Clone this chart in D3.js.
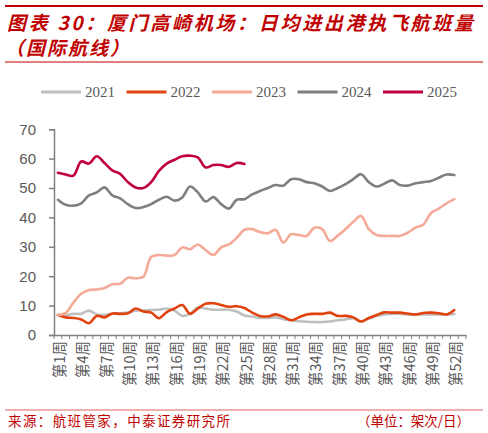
<!DOCTYPE html>
<html>
<head>
<meta charset="utf-8">
<script src="https://cdn.jsdelivr.net/npm/d3@7"></script>
<style>
  html, body { margin: 0; padding: 0; background: #fff; }
  svg { display: block; }
</style>
</head>
<body>
<svg id="chart"></svg>
<script>
// data, weeks 1..52
const weeks = d3.range(1, 54); // 53 category slots on the axis
const labelWeeks = [1, 4, 7, 10, 13, 16, 19, 22, 25, 28, 31, 34, 37, 40, 43, 46, 49, 52];
const years = ["2021", "2022", "2023", "2024", "2025"];
const yTicks = [0, 10, 20, 30, 40, 50, 60, 70];

const v2021 = [6.8, 6.8, 7.2, 7.2, 8.3, 7.0, 6.8, 7.2, 7.4, 7.6, 8.3, 8.3, 8.5, 8.6, 9.0, 8.3, 6.5, 7.2, 9.4, 9.0,
  8.6, 8.6, 8.6, 8.0, 6.6, 6.3, 5.8, 5.8, 6.0, 5.4, 5.0, 4.7, 4.5, 4.4, 4.4, 4.6, 5.0, 5.3, 5.7, 4.5,
  5.6, 6.5, 7.0, 7.2, 7.2, 7.0, 6.9, 7.0, 7.0, 7.0, 7.0, 7.2];
const v2022 = [6.8, 6.0, 5.8, 5.3, 4.0, 6.5, 6.0, 7.3, 7.2, 7.4, 9.0, 8.0, 7.6, 5.7, 7.8, 9.0, 10.2, 7.2, 9.0, 10.6,
  10.8, 10.2, 9.6, 9.8, 9.2, 7.6, 6.5, 6.3, 7.0, 6.2, 5.0, 6.0, 7.0, 7.2, 7.2, 7.6, 6.5, 6.5, 6.0, 4.6,
  5.8, 6.8, 7.7, 7.6, 7.6, 7.3, 7.0, 7.5, 7.6, 7.4, 7.0, 8.5];
const v2023 = [6.8, 7.5, 11.0, 14.0, 15.3, 15.5, 16.0, 17.3, 17.4, 19.5, 19.3, 19.8, 26.5, 27.2, 27.0, 27.2, 29.8, 29.2, 30.8, 28.9,
  27.2, 29.8, 30.8, 33.0, 35.8, 36.0, 35.0, 34.6, 35.8, 31.4, 34.3, 34.0, 33.7, 36.5, 36.0, 32.0, 33.8, 36.0, 38.5, 40.5,
  36.0, 34.0, 33.7, 33.7, 33.7, 34.8, 36.5, 37.5, 41.5, 43.0, 44.8, 46.2];
const v2024 = [46.0, 44.3, 44.0, 44.8, 47.5, 48.5, 50.2, 47.5, 46.5, 44.5, 43.2, 43.5, 44.5, 46.0, 47.0, 45.7, 46.8, 50.5, 48.5, 45.4,
  46.9, 44.5, 43.0, 46.0, 46.2, 47.8, 49.0, 50.0, 51.0, 50.8, 53.0, 53.0, 52.0, 51.6, 50.5, 49.0, 50.0, 51.3, 53.0, 54.7,
  52.0, 50.5, 51.5, 52.6, 51.0, 50.8, 51.6, 52.0, 52.4, 53.5, 54.6, 54.4];
const v2025 = [55.2, 54.6, 54.2, 59.0, 58.3, 60.8, 58.5, 56.0, 54.8, 52.0, 50.2, 50.0, 52.0, 55.8, 58.3, 59.6, 60.8, 61.0, 60.4, 57.0,
  57.8, 57.8, 57.2, 58.5, 58.2];

const seriesValues = [v2021, v2022, v2023, v2024, v2025];
const seriesColors = ["#bfbfbf", "#e2420d", "#f5aa98", "#7f7f7f", "#c0003c"];

const W = 488, H = 433;
const RED = "#c00000";
const TXT = "#595959";

const svg = d3.select("#chart").attr("width", W).attr("height", H);

// header
svg.append("line").attr("x1", 5).attr("x2", 483).attr("y1", 6).attr("y2", 6)
  .attr("stroke", RED).attr("stroke-width", 2);
svg.append("line").attr("x1", 5).attr("x2", 483).attr("y1", 62).attr("y2", 62)
  .attr("stroke", RED).attr("stroke-width", 1);

const titleFont = "'Noto Sans CJK SC', sans-serif";
svg.append("text").attr("x", 7).attr("y", 30)
  .attr("textLength", 466).attr("lengthAdjust", "spacing")
  .style("font-family", titleFont).style("font-size", "19px")
  .style("font-style", "italic").style("font-weight", "bold").style("fill", RED)
  .text("图表 30：厦门高崎机场：日均进出港执飞航班量");
svg.append("text").attr("x", 5).attr("y", 55)
  .attr("textLength", 124).attr("lengthAdjust", "spacing")
  .style("font-family", titleFont).style("font-size", "19px")
  .style("font-style", "italic").style("font-weight", "bold").style("fill", RED)
  .text("（国际航线）");

// legend
const legend = svg.append("g").attr("transform", "translate(41,92)");
years.forEach((yr, i) => {
  const g = legend.append("g").attr("transform", `translate(${i * 85.5},0)`);
  g.append("line").attr("x1", 0).attr("x2", 40).attr("y1", 0).attr("y2", 0)
    .attr("stroke", seriesColors[i]).attr("stroke-width", 3);
  g.append("text").attr("x", 44).attr("y", 5)
    .style("font-family", "'Liberation Serif', serif").style("font-size", "15px")
    .style("fill", TXT).text(yr);
});

// scales
const x = d3.scaleBand().domain(weeks).range([54, 466]);
const y = d3.scaleLinear().domain([0, 70]).range([335, 129.2]);
const cx = w => x(w) + x.bandwidth() / 2;

// y axis
const yAxis = svg.append("g").attr("transform", "translate(54,0)")
  .call(d3.axisLeft(y).tickValues(yTicks).tickSize(5).tickPadding(13));
yAxis.select(".domain").attr("stroke", "#808080").attr("stroke-width", 1.5);
yAxis.selectAll(".tick line").attr("stroke", "#808080").attr("stroke-width", 1.5);
yAxis.selectAll(".tick text").style("font-family", "'Liberation Sans', Arial, sans-serif")
  .style("font-size", "15px").style("fill", TXT);

// x axis
const xAxis = svg.append("g").attr("transform", "translate(0,335)")
  .call(d3.axisBottom(x).tickValues(labelWeeks).tickSize(0).tickFormat(w => `第${w}周`));
xAxis.select(".domain").attr("stroke", "#808080").attr("stroke-width", 1.5);
xAxis.selectAll(".tick text")
  .attr("transform", "rotate(-90)").attr("text-anchor", "end")
  .attr("x", -6).attr("y", 2).attr("dy", "0.35em")
  .style("font-family", "'Noto Sans CJK SC', sans-serif").style("font-size", "14.5px")
  .style("fill", TXT);
// category boundary ticks
xAxis.selectAll(".bound").data(d3.range(0, weeks.length + 1)).enter().append("line")
  .attr("class", "bound")
  .attr("x1", i => 54 + i * x.step()).attr("x2", i => 54 + i * x.step())
  .attr("y1", 0).attr("y2", 4)
  .attr("stroke", "#808080").attr("stroke-width", 1);

// lines
const line = d3.line()
  .x((d, i) => cx(i + 1))
  .y(d => y(d))
  .curve(d3.curveCatmullRom.alpha(0.5));

svg.append("g").selectAll("path").data(seriesValues).enter().append("path")
  .attr("d", line)
  .attr("fill", "none")
  .attr("stroke", (d, i) => seriesColors[i])
  .attr("stroke-width", 2.6)
  .attr("stroke-linejoin", "round")
  .attr("stroke-linecap", "round");

// footer
svg.append("line").attr("x1", 5).attr("x2", 483).attr("y1", 410).attr("y2", 410)
  .attr("stroke", "#e06060").attr("stroke-width", 1);
svg.append("text").attr("x", 8).attr("y", 426)
  .attr("textLength", 222).attr("lengthAdjust", "spacing")
  .style("font-family", titleFont).style("font-size", "13.5px").style("fill", RED)
  .text("来源：航班管家，中泰证券研究所");
svg.append("text").attr("x", 357).attr("y", 426)
  .attr("textLength", 113).attr("lengthAdjust", "spacing")
  .style("font-family", titleFont).style("font-size", "13.5px").style("fill", RED)
  .text("（单位：架次/日）");
</script>
</body>
</html>
